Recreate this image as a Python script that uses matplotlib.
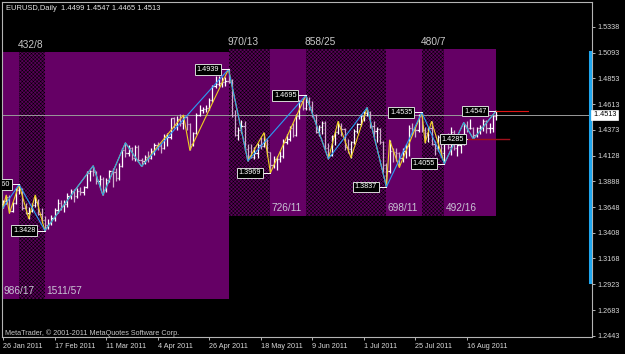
import numpy as np
import matplotlib.pyplot as plt
import matplotlib.transforms as mtransforms
from matplotlib.collections import LineCollection
from matplotlib.patches import Rectangle

plt.rcParams['font.family'] = ['Liberation Sans', 'DejaVu Sans']
plt.rcParams['hatch.linewidth'] = 0.35

# daily EURUSD bars, index 0 = 26 Jan 2011
opens = [1.3680, 1.3705, 1.3745, 1.3610, 1.3690, 1.3805, 1.3815, 1.3640, 1.3595, 1.3610,
         1.3670, 1.3700, 1.3585, 1.3530, 1.3480, 1.3500, 1.3545, 1.3620, 1.3690, 1.3660,
         1.3680, 1.3750, 1.3800, 1.3755, 1.3800, 1.3790, 1.3840, 1.3970, 1.3990, 1.3980,
         1.3890, 1.3910, 1.3810, 1.3900, 1.3985, 1.3980, 1.3920, 1.4030, 1.4180, 1.4150,
         1.4200, 1.4110, 1.4210, 1.4090, 1.4080, 1.4120, 1.4110, 1.4170, 1.4230, 1.4220,
         1.4200, 1.4300, 1.4300, 1.4480, 1.4420, 1.4470, 1.4440, 1.4490, 1.4430, 1.4240,
         1.4340, 1.4510, 1.4560, 1.4570, 1.4580, 1.4650, 1.4780, 1.4800, 1.4810, 1.4820,
         1.4830, 1.4820, 1.4510, 1.4320, 1.4370, 1.4410, 1.4190, 1.4130, 1.4120, 1.4150,
         1.4230, 1.4220, 1.4270, 1.4160, 1.4040, 1.4100, 1.4100, 1.4130, 1.4260, 1.4290,
         1.4390, 1.4320, 1.4500, 1.4640, 1.4580, 1.4630, 1.4590, 1.4510, 1.4350, 1.4400,
         1.4440, 1.4200, 1.4140, 1.4310, 1.4350, 1.4410, 1.4380, 1.4210, 1.4190, 1.4260,
         1.4360, 1.4430, 1.4500, 1.4530, 1.4540, 1.4410, 1.4360, 1.4380, 1.4260, 1.4040,
         1.3990, 1.4170, 1.4160, 1.4150, 1.4110, 1.4170, 1.4220, 1.4390, 1.4380, 1.4370,
         1.4500, 1.4370, 1.4340, 1.4390, 1.4240, 1.4200, 1.4300, 1.4150, 1.4280, 1.4210,
         1.4350, 1.4200, 1.4230, 1.4240, 1.4420, 1.4390, 1.4390, 1.4320, 1.4390, 1.4400,
         1.4450, 1.4390, 1.4390, 1.4499]
highs = [1.3715, 1.3760, 1.3760, 1.3700, 1.3830, 1.3860, 1.3830, 1.3690, 1.3650, 1.3690,
         1.3760, 1.3720, 1.3640, 1.3560, 1.3535, 1.3570, 1.3640, 1.3720, 1.3715, 1.3710,
         1.3780, 1.3820, 1.3815, 1.3830, 1.3840, 1.3850, 1.3985, 1.4000, 1.4035, 1.3990,
         1.3945, 1.3930, 1.3925, 1.4000, 1.4010, 1.4010, 1.4060, 1.4200, 1.4250, 1.4225,
         1.4210, 1.4230, 1.4230, 1.4110, 1.4140, 1.4170, 1.4200, 1.4250, 1.4260, 1.4250,
         1.4330, 1.4340, 1.4485, 1.4490, 1.4500, 1.4520, 1.4510, 1.4500, 1.4440, 1.4350,
         1.4530, 1.4600, 1.4590, 1.4600, 1.4670, 1.4790, 1.4880, 1.4880, 1.4870, 1.4870,
         1.4939, 1.4850, 1.4560, 1.4400, 1.4460, 1.4450, 1.4240, 1.4240, 1.4210, 1.4250,
         1.4300, 1.4345, 1.4290, 1.4160, 1.4130, 1.4130, 1.4170, 1.4290, 1.4330, 1.4410,
         1.4440, 1.4520, 1.4650, 1.4670, 1.4695, 1.4680, 1.4640, 1.4520, 1.4420, 1.4450,
         1.4450, 1.4250, 1.4320, 1.4360, 1.4450, 1.4440, 1.4390, 1.4290, 1.4270, 1.4380,
         1.4440, 1.4520, 1.4550, 1.4580, 1.4550, 1.4450, 1.4400, 1.4390, 1.4270, 1.4060,
         1.4275, 1.4200, 1.4200, 1.4160, 1.4200, 1.4240, 1.4420, 1.4440, 1.4400, 1.4520,
         1.4535, 1.4400, 1.4400, 1.4450, 1.4270, 1.4320, 1.4330, 1.4290, 1.4340, 1.4400,
         1.4370, 1.4290, 1.4280, 1.4440, 1.4450, 1.4470, 1.4400, 1.4400, 1.4420, 1.4470,
         1.4460, 1.4440, 1.4510, 1.4547]
lows = [1.3640, 1.3680, 1.3590, 1.3600, 1.3680, 1.3770, 1.3625, 1.3580, 1.3540, 1.3600,
        1.3650, 1.3570, 1.3500, 1.3428, 1.3445, 1.3480, 1.3520, 1.3590, 1.3620, 1.3600,
        1.3650, 1.3720, 1.3700, 1.3730, 1.3760, 1.3760, 1.3830, 1.3890, 1.3940, 1.3860,
        1.3830, 1.3760, 1.3790, 1.3880, 1.3840, 1.3890, 1.3900, 1.4020, 1.4120, 1.4130,
        1.4090, 1.4080, 1.4070, 1.4030, 1.4050, 1.4070, 1.4100, 1.4140, 1.4180, 1.4150,
        1.4190, 1.4220, 1.4290, 1.4390, 1.4370, 1.4410, 1.4380, 1.4370, 1.4180, 1.4220,
        1.4330, 1.4500, 1.4530, 1.4540, 1.4560, 1.4630, 1.4760, 1.4780, 1.4770, 1.4780,
        1.4810, 1.4490, 1.4310, 1.4280, 1.4340, 1.4170, 1.4080, 1.4110, 1.4100, 1.4110,
        1.4190, 1.4210, 1.4130, 1.3969, 1.4010, 1.4000, 1.4070, 1.4110, 1.4240, 1.4270,
        1.4300, 1.4310, 1.4470, 1.4560, 1.4560, 1.4560, 1.4490, 1.4340, 1.4310, 1.4330,
        1.4180, 1.4100, 1.4130, 1.4230, 1.4330, 1.4310, 1.4180, 1.4150, 1.4110, 1.4240,
        1.4340, 1.4410, 1.4450, 1.4500, 1.4390, 1.4300, 1.4260, 1.4240, 1.3980, 1.3837,
        1.3970, 1.4070, 1.4080, 1.4020, 1.4070, 1.4110, 1.4130, 1.4320, 1.4300, 1.4350,
        1.4350, 1.4250, 1.4260, 1.4230, 1.4140, 1.4170, 1.4120, 1.4055, 1.4190, 1.4140,
        1.4180, 1.4130, 1.4150, 1.4230, 1.4350, 1.4380, 1.4285, 1.4300, 1.4330, 1.4360,
        1.4340, 1.4340, 1.4350, 1.4465]
closes = [1.3705, 1.3745, 1.3610, 1.3690, 1.3805, 1.3815, 1.3640, 1.3595, 1.3610, 1.3670,
          1.3700, 1.3585, 1.3530, 1.3480, 1.3500, 1.3545, 1.3620, 1.3690, 1.3660, 1.3680,
          1.3750, 1.3800, 1.3755, 1.3800, 1.3790, 1.3840, 1.3970, 1.3990, 1.3980, 1.3890,
          1.3910, 1.3810, 1.3900, 1.3985, 1.3980, 1.3920, 1.4030, 1.4180, 1.4150, 1.4200,
          1.4110, 1.4210, 1.4090, 1.4080, 1.4120, 1.4110, 1.4170, 1.4230, 1.4220, 1.4200,
          1.4300, 1.4300, 1.4480, 1.4420, 1.4470, 1.4440, 1.4490, 1.4430, 1.4240, 1.4340,
          1.4510, 1.4560, 1.4570, 1.4580, 1.4650, 1.4780, 1.4800, 1.4810, 1.4820, 1.4830,
          1.4820, 1.4510, 1.4320, 1.4370, 1.4410, 1.4190, 1.4130, 1.4120, 1.4150, 1.4230,
          1.4220, 1.4270, 1.4160, 1.4040, 1.4100, 1.4100, 1.4130, 1.4260, 1.4290, 1.4390,
          1.4320, 1.4500, 1.4640, 1.4580, 1.4630, 1.4590, 1.4510, 1.4350, 1.4400, 1.4440,
          1.4200, 1.4140, 1.4310, 1.4350, 1.4410, 1.4380, 1.4210, 1.4190, 1.4260, 1.4360,
          1.4430, 1.4500, 1.4530, 1.4540, 1.4410, 1.4360, 1.4380, 1.4260, 1.4040, 1.3990,
          1.4170, 1.4160, 1.4150, 1.4110, 1.4170, 1.4220, 1.4390, 1.4380, 1.4370, 1.4500,
          1.4370, 1.4340, 1.4390, 1.4240, 1.4200, 1.4300, 1.4150, 1.4280, 1.4210, 1.4350,
          1.4200, 1.4230, 1.4240, 1.4420, 1.4390, 1.4390, 1.4320, 1.4390, 1.4400, 1.4450,
          1.4390, 1.4390, 1.4499, 1.4513]

date_pos = [0, 16, 32, 48, 64, 80, 96, 112, 128, 144]
date_labels = ['26 Jan 2011', '17 Feb 2011', '11 Mar 2011', '4 Apr 2011', '26 Apr 2011',
               '18 May 2011', '9 Jun 2011', '1 Jul 2011', '25 Jul 2011', '16 Aug 2011']
price_ticks = [1.5338, 1.5093, 1.4853, 1.4613, 1.4373, 1.4128, 1.3888,
               1.3648, 1.3408, 1.3168, 1.2923, 1.2683, 1.2443]

# zigzag pivots (bar index), alternating low/high starting with a low
blue_pivots = [0, 5, 13, 28, 31, 38, 43, 70, 76, 94, 101, 113, 119, 130, 137, 143, 146, 153]
yellow_pivots = [0, 1, 2, 5, 8, 10, 13, 28, 31, 38, 43, 56, 58, 70, 76, 81, 83, 94, 101,
                 104, 108, 113, 119, 120, 123, 130, 131, 133, 137, 143, 146, 153]
# major swings (high first), plus the swing low before the visible window
major_pivots = [5, 13, 70, 83, 94, 119, 130, 137, 153]
prev_pivot = (-12, 1.2874)
extra_low = 146
box_last = [70, 153]
box_top = [1.5100, 1.5125]
box_bottom = [1.2786, 1.3567]

W, H = 625, 354
fig = plt.figure(figsize=(W / 100, H / 100), dpi=100, facecolor='black')
ax = fig.add_axes([2 / W, (H - 336.7) / H, 590 / W, 334.7 / H])
ax.set_facecolor('black')
x0, x1 = -0.3, 182.8
ax.set_xlim(x0, x1)
ax.set_ylim(1.24336, 1.55694)

purple = '#650065'

# swing boxes: rising legs solid, falling legs dithered
piv = [prev_pivot] + [(i, highs[i] if k % 2 == 0 else lows[i]) for k, i in enumerate(major_pivots)]
for k in range(len(piv) - 1):
    (a, pa), (b, pb) = piv[k], piv[k + 1]
    bi = 0 if b <= box_last[0] else 1
    top, bot = box_top[bi], box_bottom[bi]
    rising = pb > pa
    if rising:
        ax.add_patch(Rectangle((a, bot), b - a, top - bot, facecolor=purple, lw=0, zorder=1))
    else:
        ax.add_patch(Rectangle((a, bot), b - a, top - bot, facecolor='#5a005a',
                               edgecolor='black', lw=0, hatch='x' * 9, zorder=1))
    txt = f"{round(abs(pb - pa) * 10000)}/{b - a}"
    if rising:
        ax.annotate(txt, (max(a, x0), bot), xytext=(1, 3), textcoords='offset pixels',
                    ha='left', va='bottom', fontsize=7.3, color='#c8c4d4', zorder=6)
    else:
        ax.annotate(txt, (a, top), xytext=(-1, 2), textcoords='offset pixels',
                    ha='left', va='bottom', fontsize=7.3, color='#c8c8c8', zorder=6,
                    annotation_clip=False)

# OHLC bars
segs, cols = [], []
for i in range(len(closes)):
    c = 'white' if closes[i] >= opens[i] else '#d0aacc'
    segs += [[(i, lows[i]), (i, highs[i])], [(i - 0.4, opens[i]), (i, opens[i])],
             [(i, closes[i]), (i + 0.4, closes[i])]]
    cols += [c] * 3
ax.add_collection(LineCollection(segs, colors=cols, linewidths=0.9, zorder=3))


def zz(pivots):
    ys = [lows[i] if k % 2 == 0 else highs[i] for k, i in enumerate(pivots)]
    return pivots, ys


ax.plot(*zz(yellow_pivots), color='#f0d020', lw=0.8, zorder=4)
ax.plot(*zz(blue_pivots), color='#2a9df4', lw=0.8, zorder=5)

# bid line
ax.axhline(closes[-1], color='#9a9a9a', lw=0.7, zorder=2)

# pivot price labels
for i, p in piv[1:] + [(extra_low, lows[extra_low])]:
    ax.plot([i - 2.6, i], [p, p], color='white', lw=0.7, zorder=6)
    ax.text(i - 2.9, p, f"{p:.4f}", ha='right', va='center', fontsize=5.2, color='white',
            zorder=7, clip_on=True,
            bbox=dict(boxstyle='square,pad=0.25', fc='black', ec='#d8d8d8', lw=0.7))
ax.plot([153, 163], [highs[153]] * 2, color='#e01515', lw=0.8, zorder=6)
ax.plot([144.3, 157], [lows[extra_low]] * 2, color='#a0101c', lw=1.0, zorder=6)

# axes styling
for s in ax.spines.values():
    s.set_color('#b4b4b4')
    s.set_linewidth(0.8)
ax.yaxis.tick_right()
ax.set_yticks(price_ticks)
ax.set_yticklabels([f"{p:.4f}" for p in price_ticks])
ax.set_xticks(date_pos)
ax.set_xticklabels(date_labels, ha='left')
ax.tick_params(axis='both', colors='#b4b4b4', labelcolor='#d8d8d8', labelsize=5.2,
               length=2.5, width=0.7, pad=1.5)
ax.tick_params(axis='x', pad=2)

trans = mtransforms.blended_transform_factory(ax.transAxes, ax.transData)
ax.plot([0.997, 0.997], [1.2945, 1.5100], transform=trans, color='#1fa6ee', lw=2.2,
        clip_on=False, zorder=8)
ax.text(1.0, closes[-1], f" {closes[-1]:.4f}", transform=trans, ha='left', va='center',
        fontsize=5.2, color='black', zorder=9, clip_on=False,
        bbox=dict(boxstyle='square,pad=0.2', fc='white', ec='white', lw=0.5))

fig.text(5.5 / W, 1 - 8 / H,
         f"EURUSD,Daily  {opens[-1]:.4f} {highs[-1]:.4f} {lows[-1]:.4f} {closes[-1]:.4f}",
         va='center', ha='left', fontsize=5.4, color='#e8e8e8')
fig.text(5 / W, 1 - 333 / H, "MetaTrader, © 2001-2011 MetaQuotes Software Corp.",
         va='center', ha='left', fontsize=5.2, color='#c8c8c8')

fig.savefig('out.png', dpi=100, facecolor='black')
